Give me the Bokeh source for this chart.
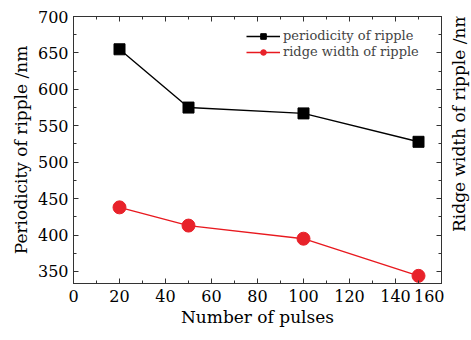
import math
from bokeh.plotting import figure
from bokeh.layouts import row
from bokeh.models import LinearAxis, Range1d, FixedTicker, Legend, LegendItem, CustomJSTickFormatter
from bokeh.embed import file_html
from bokeh.resources import INLINE

pulses = [20, 50, 100, 150]
periodicity = [655, 575, 567, 528]
ridge_width = [438, 413, 395, 344]
x_ticks = [0, 20, 40, 60, 80, 100, 120, 140, 160]
y_ticks = [350, 400, 450, 500, 550, 600, 650, 700]
right_title = ["Ridge width of ripple /nm"]

FONT = "DejaVu Serif"
AX = "#333333"

p = figure(width=444, height=340, output_backend="svg", toolbar_location=None,
           x_range=Range1d(0, 160), y_range=Range1d(333.5, 700),
           min_border_left=73, min_border_right=3, min_border_top=16, min_border_bottom=57)
p.extra_y_ranges = {"right": Range1d(333.5, 700)}
p.xgrid.visible = False
p.ygrid.visible = False
p.outline_line_color = AX
p.background_fill_color = "white"
p.border_fill_color = "white"

xt = FixedTicker(ticks=x_ticks, minor_ticks=list(range(0, 161, 10)))
yt = FixedTicker(ticks=y_ticks, minor_ticks=list(range(350, 701, 25)))
blank = CustomJSTickFormatter(code="return '';")

def style(ax):
    ax.axis_line_color = AX
    ax.major_tick_line_color = AX
    ax.minor_tick_line_color = AX
    ax.major_tick_in = 5
    ax.major_tick_out = 0
    ax.minor_tick_in = 3
    ax.minor_tick_out = 0
    ax.major_label_text_font = FONT
    ax.major_label_text_font_size = "16px"
    ax.major_label_text_color = "black"
    ax.axis_label_text_font = FONT
    ax.axis_label_text_font_size = "17px"
    ax.axis_label_text_font_style = "normal"
    ax.axis_label_text_color = "black"

p.xaxis.ticker = xt
p.yaxis.ticker = yt
style(p.xaxis[0])
style(p.yaxis[0])
p.xaxis.axis_label = "Number of pulses"
p.yaxis.axis_label = "Periodicity of ripple /nm"
p.xaxis.major_label_standoff = 6
p.xaxis.axis_label_standoff = 2
p.yaxis.major_label_standoff = 5
p.yaxis.axis_label_standoff = 4

right = LinearAxis(y_range_name="right", ticker=yt, formatter=blank)
style(right)
right.major_label_standoff = 0
p.add_layout(right, "right")

top = LinearAxis(ticker=xt, formatter=blank)
style(top)
top.major_label_standoff = 0
p.add_layout(top, "above")

l1 = p.line(pulses, periodicity, line_color="black", line_width=1.4)
m1 = p.scatter(pulses, periodicity, marker="square", size=11, fill_color="black", line_color="black")
l2 = p.line(pulses, ridge_width, line_color="#e8191f", line_width=1.4)
m2 = p.scatter(pulses, ridge_width, marker="circle", size=13, fill_color="#e8222a", line_color="#e8222a")

legend = Legend(items=[LegendItem(label="periodicity of ripple", renderers=[l1, m1]),
                       LegendItem(label="ridge width of ripple", renderers=[l2, m2])],
                location=(173, 224))
legend.border_line_color = None
legend.background_fill_alpha = 0
legend.label_text_font = FONT
legend.label_text_font_size = "13px"
legend.label_height = 14
legend.glyph_height = 14
legend.glyph_width = 34
legend.label_standoff = 3
legend.spacing = 1
legend.padding = 2
legend.margin = 0
p.add_layout(legend)

# right-hand axis title, reading bottom to top like the reference
q = figure(width=27, height=340, output_backend="svg", toolbar_location=None,
           x_range=Range1d(0, 1), y_range=Range1d(0, 1),
           x_axis_type=None, y_axis_type=None, min_border=0)
q.outline_line_color = None
q.xgrid.visible = False
q.ygrid.visible = False
q.background_fill_color = "white"
q.border_fill_color = "white"
q.text(x=[0.52], y=[0.606], text=right_title, angle=math.pi / 2,
       text_align="center", text_baseline="middle",
       text_font={"value": FONT}, text_font_size="17px", text_color="black")

layout = row(p, q, spacing=0)
open("out.html", "w").write(file_html(layout, INLINE))
